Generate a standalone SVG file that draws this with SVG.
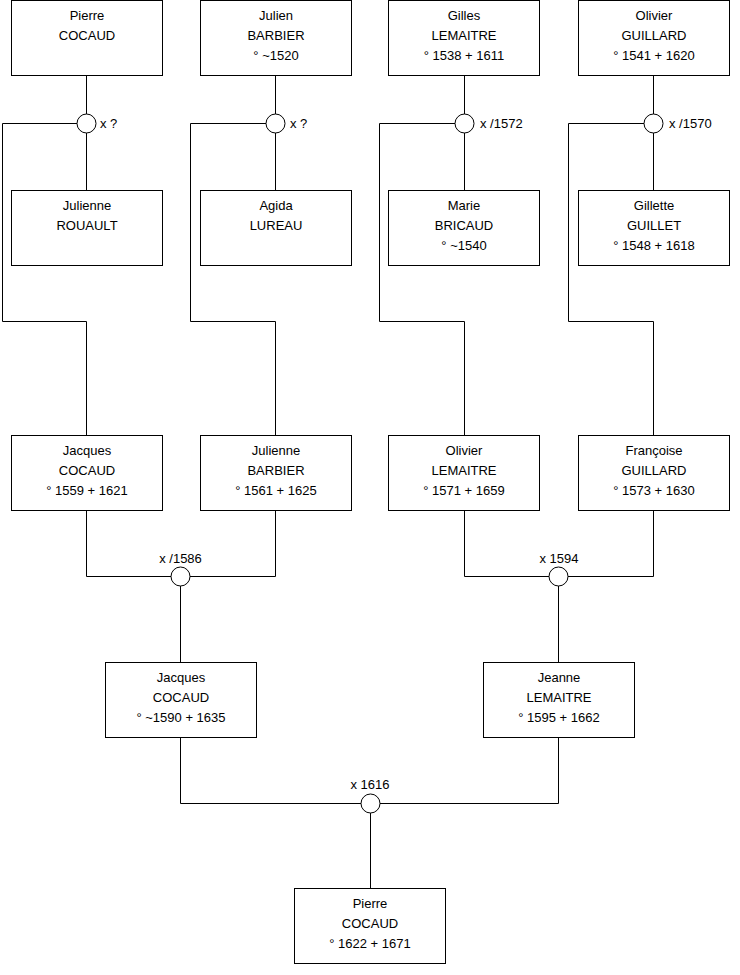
<svg xmlns="http://www.w3.org/2000/svg" width="740" height="975" viewBox="0 0 740 975">
<style>
rect.box{fill:#fff;stroke:#000;stroke-width:1}
.ln{fill:none;stroke:#000;stroke-width:1}
circle.m{fill:#fff;stroke:#000;stroke-width:1}
text{font-family:"Liberation Sans",Arial,sans-serif;font-size:13px;fill:#000}
.c{text-anchor:middle}
</style>
<rect width="740" height="975" fill="#fff"/>
<g id="connectors">
<path class="ln" d="M86.5 75.5V190.5M275.5 75.5V190.5M464.5 75.5V190.5M653.5 75.5V190.5"/>
<path class="ln" d="M77 123.5H2.5V321.5H86.5V435.5M266 123.5H190.5V321.5H275.5V435.5M455 123.5H379.5V321.5H464.5V435.5M644 123.5H568.5V321.5H653.5V435.5"/>
<path class="ln" d="M86.5 510.5V576.5H275.5V510.5M180.5 576.5V662.5M464.5 510.5V576.5H653.5V510.5M558.5 576.5V662.5"/>
<path class="ln" d="M180.5 737.5V803.5H558.5V737.5M370.5 803.5V888.5"/>
<circle class="m" cx="86.5" cy="123.5" r="9.5"/>
<circle class="m" cx="275.5" cy="123.5" r="9.5"/>
<circle class="m" cx="464.5" cy="123.5" r="9.5"/>
<circle class="m" cx="653.5" cy="123.5" r="9.5"/>
<circle class="m" cx="180.5" cy="576.5" r="9.5"/>
<circle class="m" cx="558.5" cy="576.5" r="9.5"/>
<circle class="m" cx="370.5" cy="803.5" r="9.5"/>
<text x="100" y="128">x ?</text>
<text x="290" y="128">x ?</text>
<text x="480" y="128">x /1572</text>
<text x="669" y="128">x /1570</text>
<text class="c" x="180.5" y="563">x /1586</text>
<text class="c" x="559" y="563">x 1594</text>
<text class="c" x="370" y="789">x 1616</text>
</g>
<g id="pierre-cocaud-sr"><rect class="box" x="11.5" y="0.5" width="151" height="75"/><text class="c" x="87" y="20">Pierre</text><text class="c" x="87" y="40">COCAUD</text></g>
<g id="julien-barbier"><rect class="box" x="200.5" y="0.5" width="151" height="75"/><text class="c" x="276" y="20">Julien</text><text class="c" x="276" y="40">BARBIER</text><text class="c" x="276" y="60">° ~1520</text></g>
<g id="gilles-lemaitre"><rect class="box" x="388.5" y="0.5" width="151" height="75"/><text class="c" x="464" y="20">Gilles</text><text class="c" x="464" y="40">LEMAITRE</text><text class="c" x="464" y="60">° 1538 + 1611</text></g>
<g id="olivier-guillard"><rect class="box" x="578.5" y="0.5" width="151" height="75"/><text class="c" x="654" y="20">Olivier</text><text class="c" x="654" y="40">GUILLARD</text><text class="c" x="654" y="60">° 1541 + 1620</text></g>
<g id="julienne-rouault"><rect class="box" x="11.5" y="190.5" width="151" height="75"/><text class="c" x="87" y="210">Julienne</text><text class="c" x="87" y="230">ROUAULT</text></g>
<g id="agida-lureau"><rect class="box" x="200.5" y="190.5" width="151" height="75"/><text class="c" x="276" y="210">Agida</text><text class="c" x="276" y="230">LUREAU</text></g>
<g id="marie-bricaud"><rect class="box" x="388.5" y="190.5" width="151" height="75"/><text class="c" x="464" y="210">Marie</text><text class="c" x="464" y="230">BRICAUD</text><text class="c" x="464" y="250">° ~1540</text></g>
<g id="gillette-guillet"><rect class="box" x="578.5" y="190.5" width="151" height="75"/><text class="c" x="654" y="210">Gillette</text><text class="c" x="654" y="230">GUILLET</text><text class="c" x="654" y="250">° 1548 + 1618</text></g>
<g id="jacques-cocaud-1559"><rect class="box" x="11.5" y="435.5" width="151" height="75"/><text class="c" x="87" y="455">Jacques</text><text class="c" x="87" y="475">COCAUD</text><text class="c" x="87" y="495">° 1559 + 1621</text></g>
<g id="julienne-barbier"><rect class="box" x="200.5" y="435.5" width="151" height="75"/><text class="c" x="276" y="455">Julienne</text><text class="c" x="276" y="475">BARBIER</text><text class="c" x="276" y="495">° 1561 + 1625</text></g>
<g id="olivier-lemaitre"><rect class="box" x="388.5" y="435.5" width="151" height="75"/><text class="c" x="464" y="455">Olivier</text><text class="c" x="464" y="475">LEMAITRE</text><text class="c" x="464" y="495">° 1571 + 1659</text></g>
<g id="francoise-guillard"><rect class="box" x="578.5" y="435.5" width="151" height="75"/><text class="c" x="654" y="455">Françoise</text><text class="c" x="654" y="475">GUILLARD</text><text class="c" x="654" y="495">° 1573 + 1630</text></g>
<g id="jacques-cocaud-1590"><rect class="box" x="105.5" y="662.5" width="151" height="75"/><text class="c" x="181" y="682">Jacques</text><text class="c" x="181" y="702">COCAUD</text><text class="c" x="181" y="722">° ~1590 + 1635</text></g>
<g id="jeanne-lemaitre"><rect class="box" x="483.5" y="662.5" width="151" height="75"/><text class="c" x="559" y="682">Jeanne</text><text class="c" x="559" y="702">LEMAITRE</text><text class="c" x="559" y="722">° 1595 + 1662</text></g>
<g id="pierre-cocaud-1622"><rect class="box" x="294.5" y="888.5" width="151" height="75"/><text class="c" x="370" y="908">Pierre</text><text class="c" x="370" y="928">COCAUD</text><text class="c" x="370" y="948">° 1622 + 1671</text></g>
</svg>
